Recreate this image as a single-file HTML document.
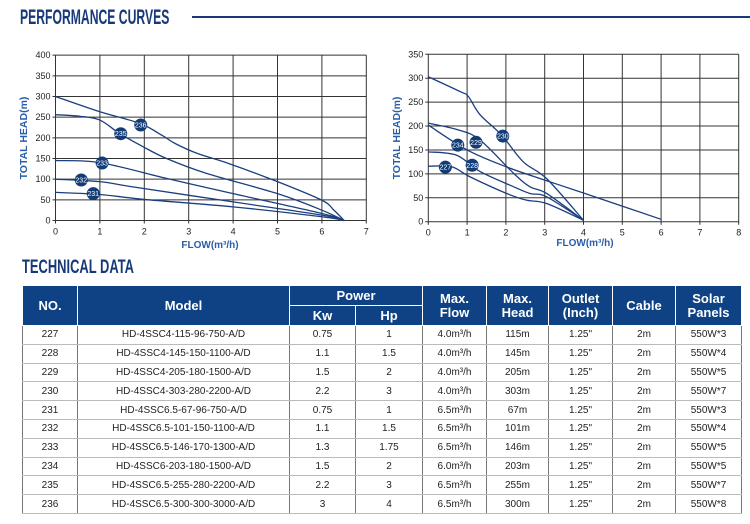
<!DOCTYPE html>
<html><head><meta charset="utf-8"><style>
body{margin:0;width:750px;height:524px;background:#fff;position:relative;overflow:hidden;font-family:"Liberation Sans",sans-serif}
.t{position:absolute;font-family:"Liberation Sans",sans-serif;font-weight:bold;color:#17397a;transform-origin:left top;letter-spacing:0}
table{position:absolute;left:22px;top:285px;border-collapse:collapse;table-layout:fixed;font-family:"Liberation Sans",sans-serif}
td,th{padding:0;text-align:center;overflow:hidden;white-space:nowrap}
th{background:#0e4285;color:#fff;border:1.5px solid #fff;font-size:13px;line-height:14px;font-weight:bold}
td{border:1px solid #bbb;font-size:10px;height:17.8px;color:#222;border-left:1px solid #777;border-right:1px solid #777}
</style></head><body>
<div class="t" style="left:20px;top:6px;font-size:21px;transform:scaleX(0.58)">PERFORMANCE CURVES</div>
<div style="position:absolute;left:192px;top:16px;width:558px;height:2px;background:#17397a"></div>
<div class="t" style="left:22px;top:257px;font-size:19px;transform:scaleX(0.68)">TECHNICAL DATA</div>
<svg id="s" width="750" height="285" style="position:absolute;left:0;top:0" font-family="Liberation Sans, sans-serif"></svg>
<table>
<colgroup><col style="width:55px"><col style="width:212px"><col style="width:66px"><col style="width:67px"><col style="width:64px"><col style="width:62px"><col style="width:64px"><col style="width:63px"><col style="width:66px"></colgroup>
<tr style="height:20px"><th rowspan="2">NO.</th><th rowspan="2">Model</th><th colspan="2">Power</th><th rowspan="2">Max.<br>Flow</th><th rowspan="2">Max.<br>Head</th><th rowspan="2">Outlet<br>(Inch)</th><th rowspan="2">Cable</th><th rowspan="2">Solar<br>Panels</th></tr>
<tr style="height:20px"><th>Kw</th><th>Hp</th></tr>
<tr><td>227</td><td>HD-4SSC4-115-96-750-A/D</td><td>0.75</td><td>1</td><td>4.0m³/h</td><td>115m</td><td>1.25"</td><td>2m</td><td>550W*3</td></tr>
<tr><td>228</td><td>HD-4SSC4-145-150-1100-A/D</td><td>1.1</td><td>1.5</td><td>4.0m³/h</td><td>145m</td><td>1.25"</td><td>2m</td><td>550W*4</td></tr>
<tr><td>229</td><td>HD-4SSC4-205-180-1500-A/D</td><td>1.5</td><td>2</td><td>4.0m³/h</td><td>205m</td><td>1.25"</td><td>2m</td><td>550W*5</td></tr>
<tr><td>230</td><td>HD-4SSC4-303-280-2200-A/D</td><td>2.2</td><td>3</td><td>4.0m³/h</td><td>303m</td><td>1.25"</td><td>2m</td><td>550W*7</td></tr>
<tr><td>231</td><td>HD-4SSC6.5-67-96-750-A/D</td><td>0.75</td><td>1</td><td>6.5m³/h</td><td>67m</td><td>1.25"</td><td>2m</td><td>550W*3</td></tr>
<tr><td>232</td><td>HD-4SSC6.5-101-150-1100-A/D</td><td>1.1</td><td>1.5</td><td>6.5m³/h</td><td>101m</td><td>1.25"</td><td>2m</td><td>550W*4</td></tr>
<tr><td>233</td><td>HD-4SSC6.5-146-170-1300-A/D</td><td>1.3</td><td>1.75</td><td>6.5m³/h</td><td>146m</td><td>1.25"</td><td>2m</td><td>550W*5</td></tr>
<tr><td>234</td><td>HD-4SSC6-203-180-1500-A/D</td><td>1.5</td><td>2</td><td>6.0m³/h</td><td>203m</td><td>1.25"</td><td>2m</td><td>550W*5</td></tr>
<tr><td>235</td><td>HD-4SSC6.5-255-280-2200-A/D</td><td>2.2</td><td>3</td><td>6.5m³/h</td><td>255m</td><td>1.25"</td><td>2m</td><td>550W*7</td></tr>
<tr><td>236</td><td>HD-4SSC6.5-300-300-3000-A/D</td><td>3</td><td>4</td><td>6.5m³/h</td><td>300m</td><td>1.25"</td><td>2m</td><td>550W*8</td></tr>
</table>
<script>
var s=document.getElementById('s'),h='';
function chart(x0,y0,xs,ys,nx,ymax,ystep,curves,badges,lx,ly,fx,fy){
 for(var i=0;i<=nx;i++){var X=x0+i*xs;h+='<line x1="'+X+'" y1="'+(y0-ymax*ys)+'" x2="'+X+'" y2="'+(y0+3)+'" stroke="#333" stroke-width="1"/>';h+='<text x="'+X+'" y="'+(y0+14)+'" font-size="9" text-anchor="middle" fill="#222">'+i+'</text>';}
 for(var v=0;v<=ymax;v+=ystep){var Y=y0-v*ys;h+='<line x1="'+(x0-3)+'" y1="'+Y+'" x2="'+(x0+nx*xs)+'" y2="'+Y+'" stroke="#333" stroke-width="1"/>';h+='<text x="'+(x0-5)+'" y="'+(Y+3)+'" font-size="9" text-anchor="end" fill="#222">'+v+'</text>';}
 curves.forEach(function(c){var p=c.map(function(q){return [x0+q[0]*xs,y0-q[1]*ys]});var d='M'+p[0];
  for(var i=0;i<p.length-1;i++){var a=p[i-1]||p[i],b=p[i],c2=p[i+1],e=p[i+2]||c2;
   d+=' C'+(b[0]+(c2[0]-a[0])/6)+','+(b[1]+(c2[1]-a[1])/6)+' '+(c2[0]-(e[0]-b[0])/6)+','+(c2[1]-(e[1]-b[1])/6)+' '+c2;}
  h+='<path d="'+d+'" fill="none" stroke="#1b3f7e" stroke-width="1.3"/>';});
 badges.forEach(function(b){var X=x0+b[0]*xs,Y=y0-b[1]*ys;h+='<circle cx="'+X+'" cy="'+Y+'" r="6.5" fill="#123b78"/><text x="'+X+'" y="'+(Y+2.5)+'" font-size="7" text-anchor="middle" fill="#fff">'+b[2]+'</text>';});
 h+='<text x="'+lx+'" y="'+ly+'" font-size="10.5" font-weight="bold" fill="#2a5ea8" text-anchor="middle" transform="rotate(-90 '+lx+' '+ly+')">TOTAL HEAD(m)</text>';
 h+='<text x="'+fx+'" y="'+fy+'" font-size="10" font-weight="bold" fill="#2a5ea8" text-anchor="middle">FLOW(m³/h)</text>';
}
chart(55.5,220.5,44.4,0.4133,7,400,50,[
 [[0,300],[1,263],[1.9,235],[2.4,206],[2.7,186],[3.2,162],[3.9,138],[5,94],[6,49],[6.27,25],[6.5,0]],
 [[0,256],[0.56,252],[1,243],[1.45,210],[1.98,178],[2.5,150],[3.4,114],[5,65],[6,25],[6.5,0]],
 [[0,145],[1,140],[2.5,102],[4,65],[6,17],[6.5,0]],
 [[0,100],[1,94],[1.76,81],[4,45],[6,13],[6.5,0]],
 [[0,68],[1,63],[2,51],[4,33],[6,9],[6.5,0]]],
 [[1.92,231,236],[1.47,210,235],[1.05,139,233],[0.58,98,232],[0.85,65,231]],27,138,210,248);
chart(428.3,221.7,38.8,0.4783,8,350,50,[
 [[0,303],[0.82,272],[1.03,262],[1.33,224],[1.89,181],[2.45,125],[3.05,90],[4,3]],
 [[0,206],[0.77,192],[1.33,171],[2.2,101],[2.62,73],[3.05,59],[4,3]],
 [[0,202],[1,150],[2,115],[3,87],[4,60],[6,5]],
 [[0,146],[0.73,139],[1.33,105],[2.2,73],[2.62,59],[3.05,52],[4,3]],
 [[0,116],[0.6,115],[1.07,94],[2.02,59],[2.53,45],[3.05,38],[4,3]]],
 [[1.92,179,230],[1.23,166,229],[0.76,160,234],[1.13,118,228],[0.44,114,227]],400,138,585,246);
s.innerHTML=h;
</script>
</body></html>
